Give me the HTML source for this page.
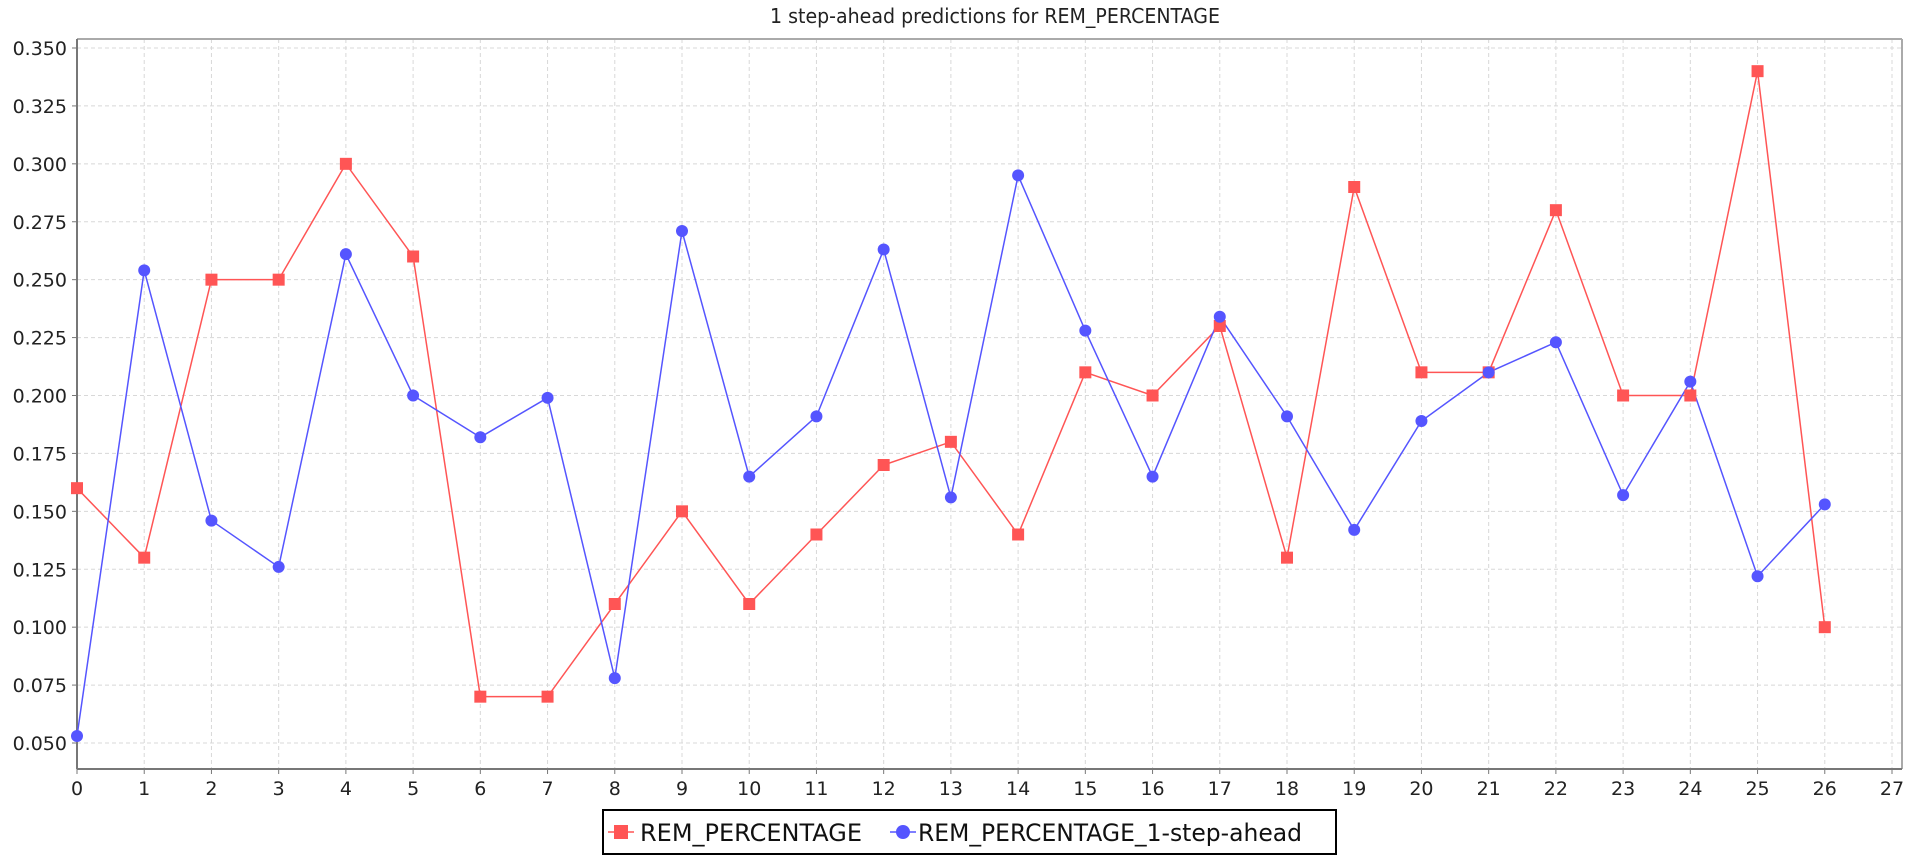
<!DOCTYPE html>
<html><head><meta charset="utf-8"><style>
html,body{margin:0;padding:0;background:#fff;}
svg text{font-family:"DejaVu Sans","Liberation Sans",sans-serif;}
</style></head><body>
<svg id="chart" width="1926" height="856" xmlns="http://www.w3.org/2000/svg">
<text x="995" y="23" font-size="20" text-anchor="middle" fill="#222" textLength="450" lengthAdjust="spacingAndGlyphs">1 step-ahead predictions for REM_PERCENTAGE</text>
<g id="grid"></g>
<g id="axes"></g>
<g id="series"></g>
<g>
<rect x="603" y="810" width="733" height="44" fill="#fff" stroke="#000" stroke-width="2"/>
<g>
<line x1="608" y1="832" x2="634" y2="832" stroke="#ff5555" stroke-width="1.5"/>
<rect x="614" y="825" width="14" height="14" fill="#ff5555"/>
<text x="640" y="841" font-size="24" fill="#111" textLength="222" lengthAdjust="spacingAndGlyphs">REM_PERCENTAGE</text>
</g>
<g>
<line x1="890" y1="832" x2="916" y2="832" stroke="#5555ff" stroke-width="1.5"/>
<circle cx="903" cy="832" r="7" fill="#5555ff"/>
<text x="918" y="841" font-size="24" fill="#111" textLength="384" lengthAdjust="spacingAndGlyphs">REM_PERCENTAGE_1-step-ahead</text>
</g>
</g>
</svg>
<script>
const actual=[0.16,0.13,0.25,0.25,0.30,0.26,0.07,0.07,0.11,0.15,0.11,0.14,0.17,0.18,0.14,0.21,0.20,0.23,0.13,0.29,0.21,0.21,0.28,0.20,0.20,0.34,0.10];
const predicted=[0.053,0.254,0.146,0.126,0.261,0.200,0.182,0.199,0.078,0.271,0.165,0.191,0.263,0.156,0.295,0.228,0.165,0.234,0.191,0.142,0.189,0.210,0.223,0.157,0.206,0.122,0.153];
const yTicks=[0.050,0.075,0.100,0.125,0.150,0.175,0.200,0.225,0.250,0.275,0.300,0.325,0.350];
const xTicks=[0,1,2,3,4,5,6,7,8,9,10,11,12,13,14,15,16,17,18,19,20,21,22,23,24,25,26,27];
const L=77,R=1902,T=39,B=769;
const x0=77,x27=1892;
function sx(v){return x0+(x27-x0)*v/27;}
function sy(v){return 743-(v-0.05)*(743-48)/0.3;}
const NS="http://www.w3.org/2000/svg";
function mk(tag,attrs,parent){const e=document.createElementNS(NS,tag);for(const k in attrs)e.setAttribute(k,attrs[k]);parent.appendChild(e);return e;}
const grid=document.getElementById('grid'),axes=document.getElementById('axes'),ser=document.getElementById('series');
yTicks.forEach(v=>{
 const y=sy(v);
 const g=mk('line',{x1:L,x2:R,y1:y,y2:y,stroke:'#d8d8d8','stroke-dasharray':'4,3'},grid);
 
 
 mk('line',{x1:L-5,x2:L,y1:y,y2:y,stroke:'#777'},axes);
 const t=mk('text',{x:L-10,y:y+7,'font-size':19,'text-anchor':'end',fill:'#222'},axes);
 t.textContent=v.toFixed(3);
 
 
});
xTicks.forEach(v=>{
 const x=sx(v);
 const g=mk('line',{x1:x,x2:x,y1:T,y2:B,stroke:'#d8d8d8','stroke-dasharray':'4,3'},grid);
 
 
 mk('line',{x1:x,x2:x,y1:B,y2:B+5,stroke:'#777'},axes);
 const t=mk('text',{x:x,y:795,'font-size':19,'text-anchor':'middle',fill:'#222'},axes);
 t.textContent=v;
 
 
});
mk('line',{x1:L,x2:R,y1:T,y2:T,stroke:'#aaa','stroke-width':2},axes);
mk('line',{x1:R,x2:R,y1:T,y2:B,stroke:'#aaa','stroke-width':2},axes);
const xa=mk('line',{x1:L,x2:R,y1:B,y2:B,stroke:'#777','stroke-width':2},axes);


const ya=mk('line',{x1:L,x2:L,y1:T,y2:B,stroke:'#777','stroke-width':2},axes);


function line(data,color,name){
 const p=mk('polyline',{points:data.map((v,i)=>sx(i)+','+sy(v)).join(' '),fill:'none',stroke:color,'stroke-width':1.5},ser);
 
 
}
line(actual,'#ff5555','actual-line');
line(predicted,'#5555ff','prediction-line');
actual.forEach((v,i)=>{
 const r=mk('rect',{x:sx(i)-6,y:sy(v)-6,width:12,height:12,fill:'#ff5555'},ser);
 
 
});
predicted.forEach((v,i)=>{
 const c=mk('circle',{cx:sx(i),cy:sy(v),r:6,fill:'#5555ff'},ser);
 
 
});
</script>
</body></html>
